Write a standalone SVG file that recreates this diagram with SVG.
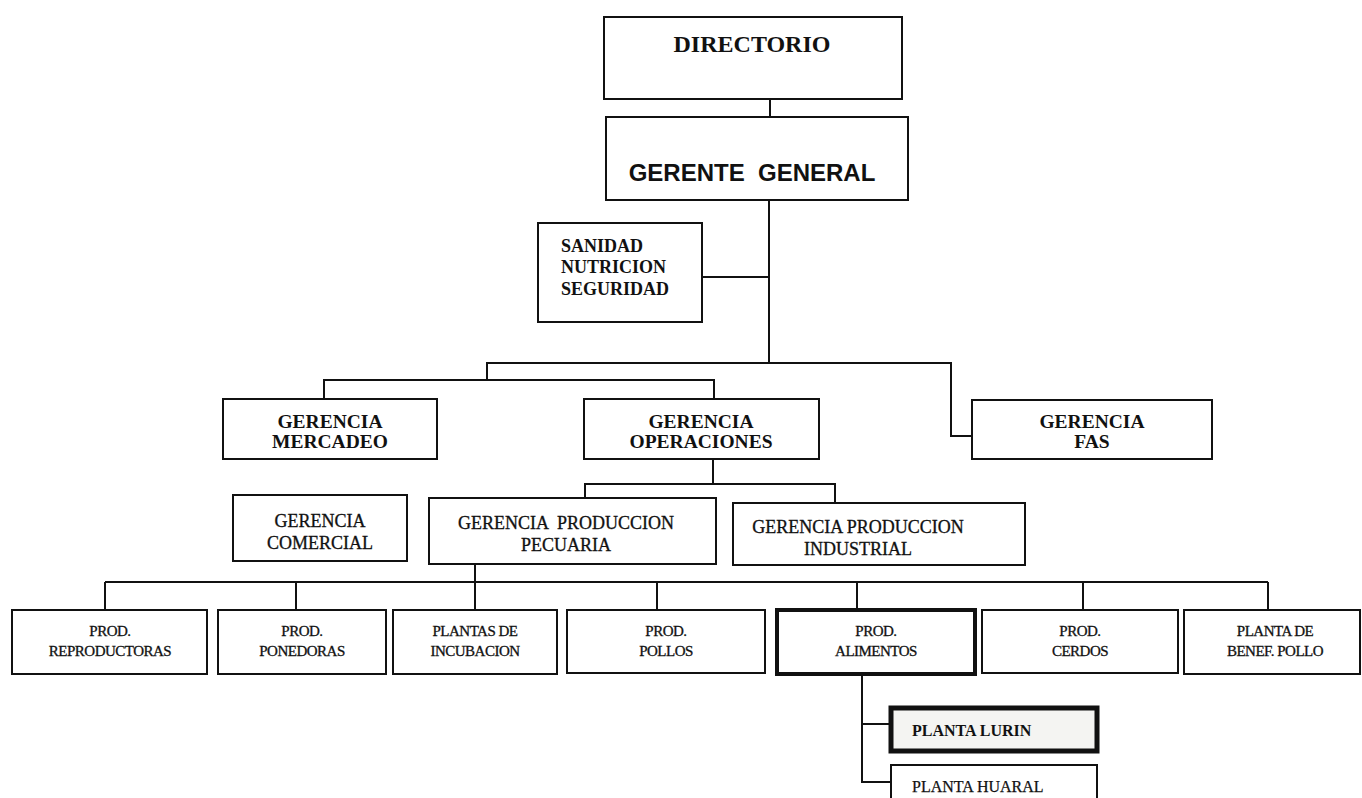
<svg xmlns="http://www.w3.org/2000/svg" width="1362" height="798" viewBox="0 0 1362 798">
  <style>
    .box { fill: #ffffff; stroke: #111; stroke-width: 2; }
    .thick { stroke-width: 4; }
    .wire { fill: none; stroke: #111; stroke-width: 2; }
    .serif { font-family: "Liberation Serif", "Times New Roman", serif; fill: #111; }
    .sans { font-family: "Liberation Sans", Arial, sans-serif; fill: #111; }
    .b { font-weight: bold; }
    .mid { text-anchor: middle; }
    .l2 { font-size: 19.5px; font-weight: bold; }
    .l3 { font-size: 18px; stroke: #111; stroke-width: 0.3; }
    .l4 { font-size: 15px; letter-spacing: -0.5px; stroke: #111; stroke-width: 0.3; }
  </style>
  <rect width="1362" height="798" fill="#ffffff"/>

  <!-- connectors -->
  <g id="connectors" class="wire">
    <line x1="770" y1="99" x2="770" y2="117"/>
    <line x1="769" y1="200" x2="769" y2="363"/>
    <line x1="702" y1="277" x2="769" y2="277"/>
    <polyline points="487,380 487,363 951,363 951,436 972,436"/>
    <polyline points="324,399 324,380 714,380 714,399"/>
    <line x1="713" y1="459" x2="713" y2="484"/>
    <polyline points="585,498 585,484 835,484 835,503"/>
    <line x1="475" y1="564" x2="475" y2="610"/>
    <line x1="105" y1="582" x2="1268" y2="582"/>
    <line x1="105" y1="582" x2="105" y2="610"/>
    <line x1="296" y1="582" x2="296" y2="610"/>
    <line x1="657" y1="582" x2="657" y2="610"/>
    <line x1="857" y1="582" x2="857" y2="610"/>
    <line x1="1083" y1="582" x2="1083" y2="610"/>
    <line x1="1268" y1="582" x2="1268" y2="610"/>
    <polyline points="862,674 862,782 891,782"/>
    <line x1="862" y1="724" x2="891" y2="724"/>
  </g>

  <!-- top -->
  <g id="directorio">
    <rect class="box" x="604" y="17" width="298" height="82"/>
    <text class="serif b mid" x="752" y="52" font-size="24">DIRECTORIO</text>
  </g>
  <g id="gerente-general">
    <rect class="box" x="606" y="117" width="302" height="83"/>
    <text class="sans b mid" x="752" y="181" font-size="24" xml:space="preserve">GERENTE  GENERAL</text>
  </g>
  <g id="sanidad">
    <rect class="box" x="538" y="223" width="164" height="99"/>
    <text class="serif b" font-size="18" x="561" y="252">SANIDAD</text>
    <text class="serif b" font-size="18" x="561" y="273">NUTRICION</text>
    <text class="serif b" font-size="18" x="561" y="295">SEGURIDAD</text>
  </g>

  <!-- gerencias -->
  <g id="gerencia-mercadeo">
    <rect class="box" x="223" y="399" width="214" height="60"/>
    <text class="serif l2 mid" x="330" y="428">GERENCIA</text>
    <text class="serif l2 mid" x="330" y="448">MERCADEO</text>
  </g>
  <g id="gerencia-operaciones">
    <rect class="box" x="584" y="399" width="235" height="60"/>
    <text class="serif l2 mid" x="701" y="428">GERENCIA</text>
    <text class="serif l2 mid" x="701" y="448">OPERACIONES</text>
  </g>
  <g id="gerencia-fas">
    <rect class="box" x="972" y="400" width="240" height="59"/>
    <text class="serif l2 mid" x="1092" y="428">GERENCIA</text>
    <text class="serif l2 mid" x="1092" y="448">FAS</text>
  </g>

  <g id="gerencia-comercial">
    <rect class="box" x="233" y="495" width="174" height="66"/>
    <text class="serif l3 mid" x="320" y="527">GERENCIA</text>
    <text class="serif l3 mid" x="320" y="549">COMERCIAL</text>
  </g>
  <g id="gerencia-pecuaria">
    <rect class="box" x="429" y="498" width="287" height="66"/>
    <text class="serif l3 mid" x="566" y="529" xml:space="preserve">GERENCIA  PRODUCCION</text>
    <text class="serif l3 mid" x="566" y="551">PECUARIA</text>
  </g>
  <g id="gerencia-industrial">
    <rect class="box" x="733" y="503" width="292" height="62"/>
    <text class="serif l3 mid" x="858" y="533">GERENCIA PRODUCCION</text>
    <text class="serif l3 mid" x="858" y="555">INDUSTRIAL</text>
  </g>

  <!-- producción -->
  <g id="prod-reproductoras">
    <rect class="box" x="12" y="610" width="195" height="64"/>
    <text class="serif l4 mid" x="110" y="636">PROD.</text>
    <text class="serif l4 mid" x="110" y="656">REPRODUCTORAS</text>
  </g>
  <g id="prod-ponedoras">
    <rect class="box" x="218" y="610" width="168" height="64"/>
    <text class="serif l4 mid" x="302" y="636">PROD.</text>
    <text class="serif l4 mid" x="302" y="656">PONEDORAS</text>
  </g>
  <g id="plantas-incubacion">
    <rect class="box" x="393" y="610" width="164" height="64"/>
    <text class="serif l4 mid" x="475" y="636">PLANTAS DE</text>
    <text class="serif l4 mid" x="475" y="656">INCUBACION</text>
  </g>
  <g id="prod-pollos">
    <rect class="box" x="567" y="610" width="198" height="63"/>
    <text class="serif l4 mid" x="666" y="636">PROD.</text>
    <text class="serif l4 mid" x="666" y="656">POLLOS</text>
  </g>
  <g id="prod-alimentos">
    <rect class="box thick" x="777" y="610" width="198" height="64"/>
    <text class="serif l4 mid" x="876" y="636">PROD.</text>
    <text class="serif l4 mid" x="876" y="656">ALIMENTOS</text>
  </g>
  <g id="prod-cerdos">
    <rect class="box" x="982" y="610" width="196" height="63"/>
    <text class="serif l4 mid" x="1080" y="636">PROD.</text>
    <text class="serif l4 mid" x="1080" y="656">CERDOS</text>
  </g>
  <g id="planta-benef-pollo">
    <rect class="box" x="1184" y="610" width="176" height="64"/>
    <text class="serif l4 mid" x="1275" y="636">PLANTA DE</text>
    <text class="serif l4 mid" x="1275" y="656">BENEF. POLLO</text>
  </g>

  <!-- plantas de alimentos -->
  <g id="planta-lurin">
    <rect class="box" x="891" y="708" width="206" height="43" style="fill:#f4f4f2;stroke-width:5"/>
    <text class="serif b" x="912" y="736" font-size="16">PLANTA LURIN</text>
  </g>
  <g id="planta-huaral">
    <rect class="box" x="891" y="765" width="206" height="50"/>
    <text class="serif" x="912" y="792" font-size="16" stroke="#111" stroke-width="0.25">PLANTA HUARAL</text>
  </g>
</svg>
